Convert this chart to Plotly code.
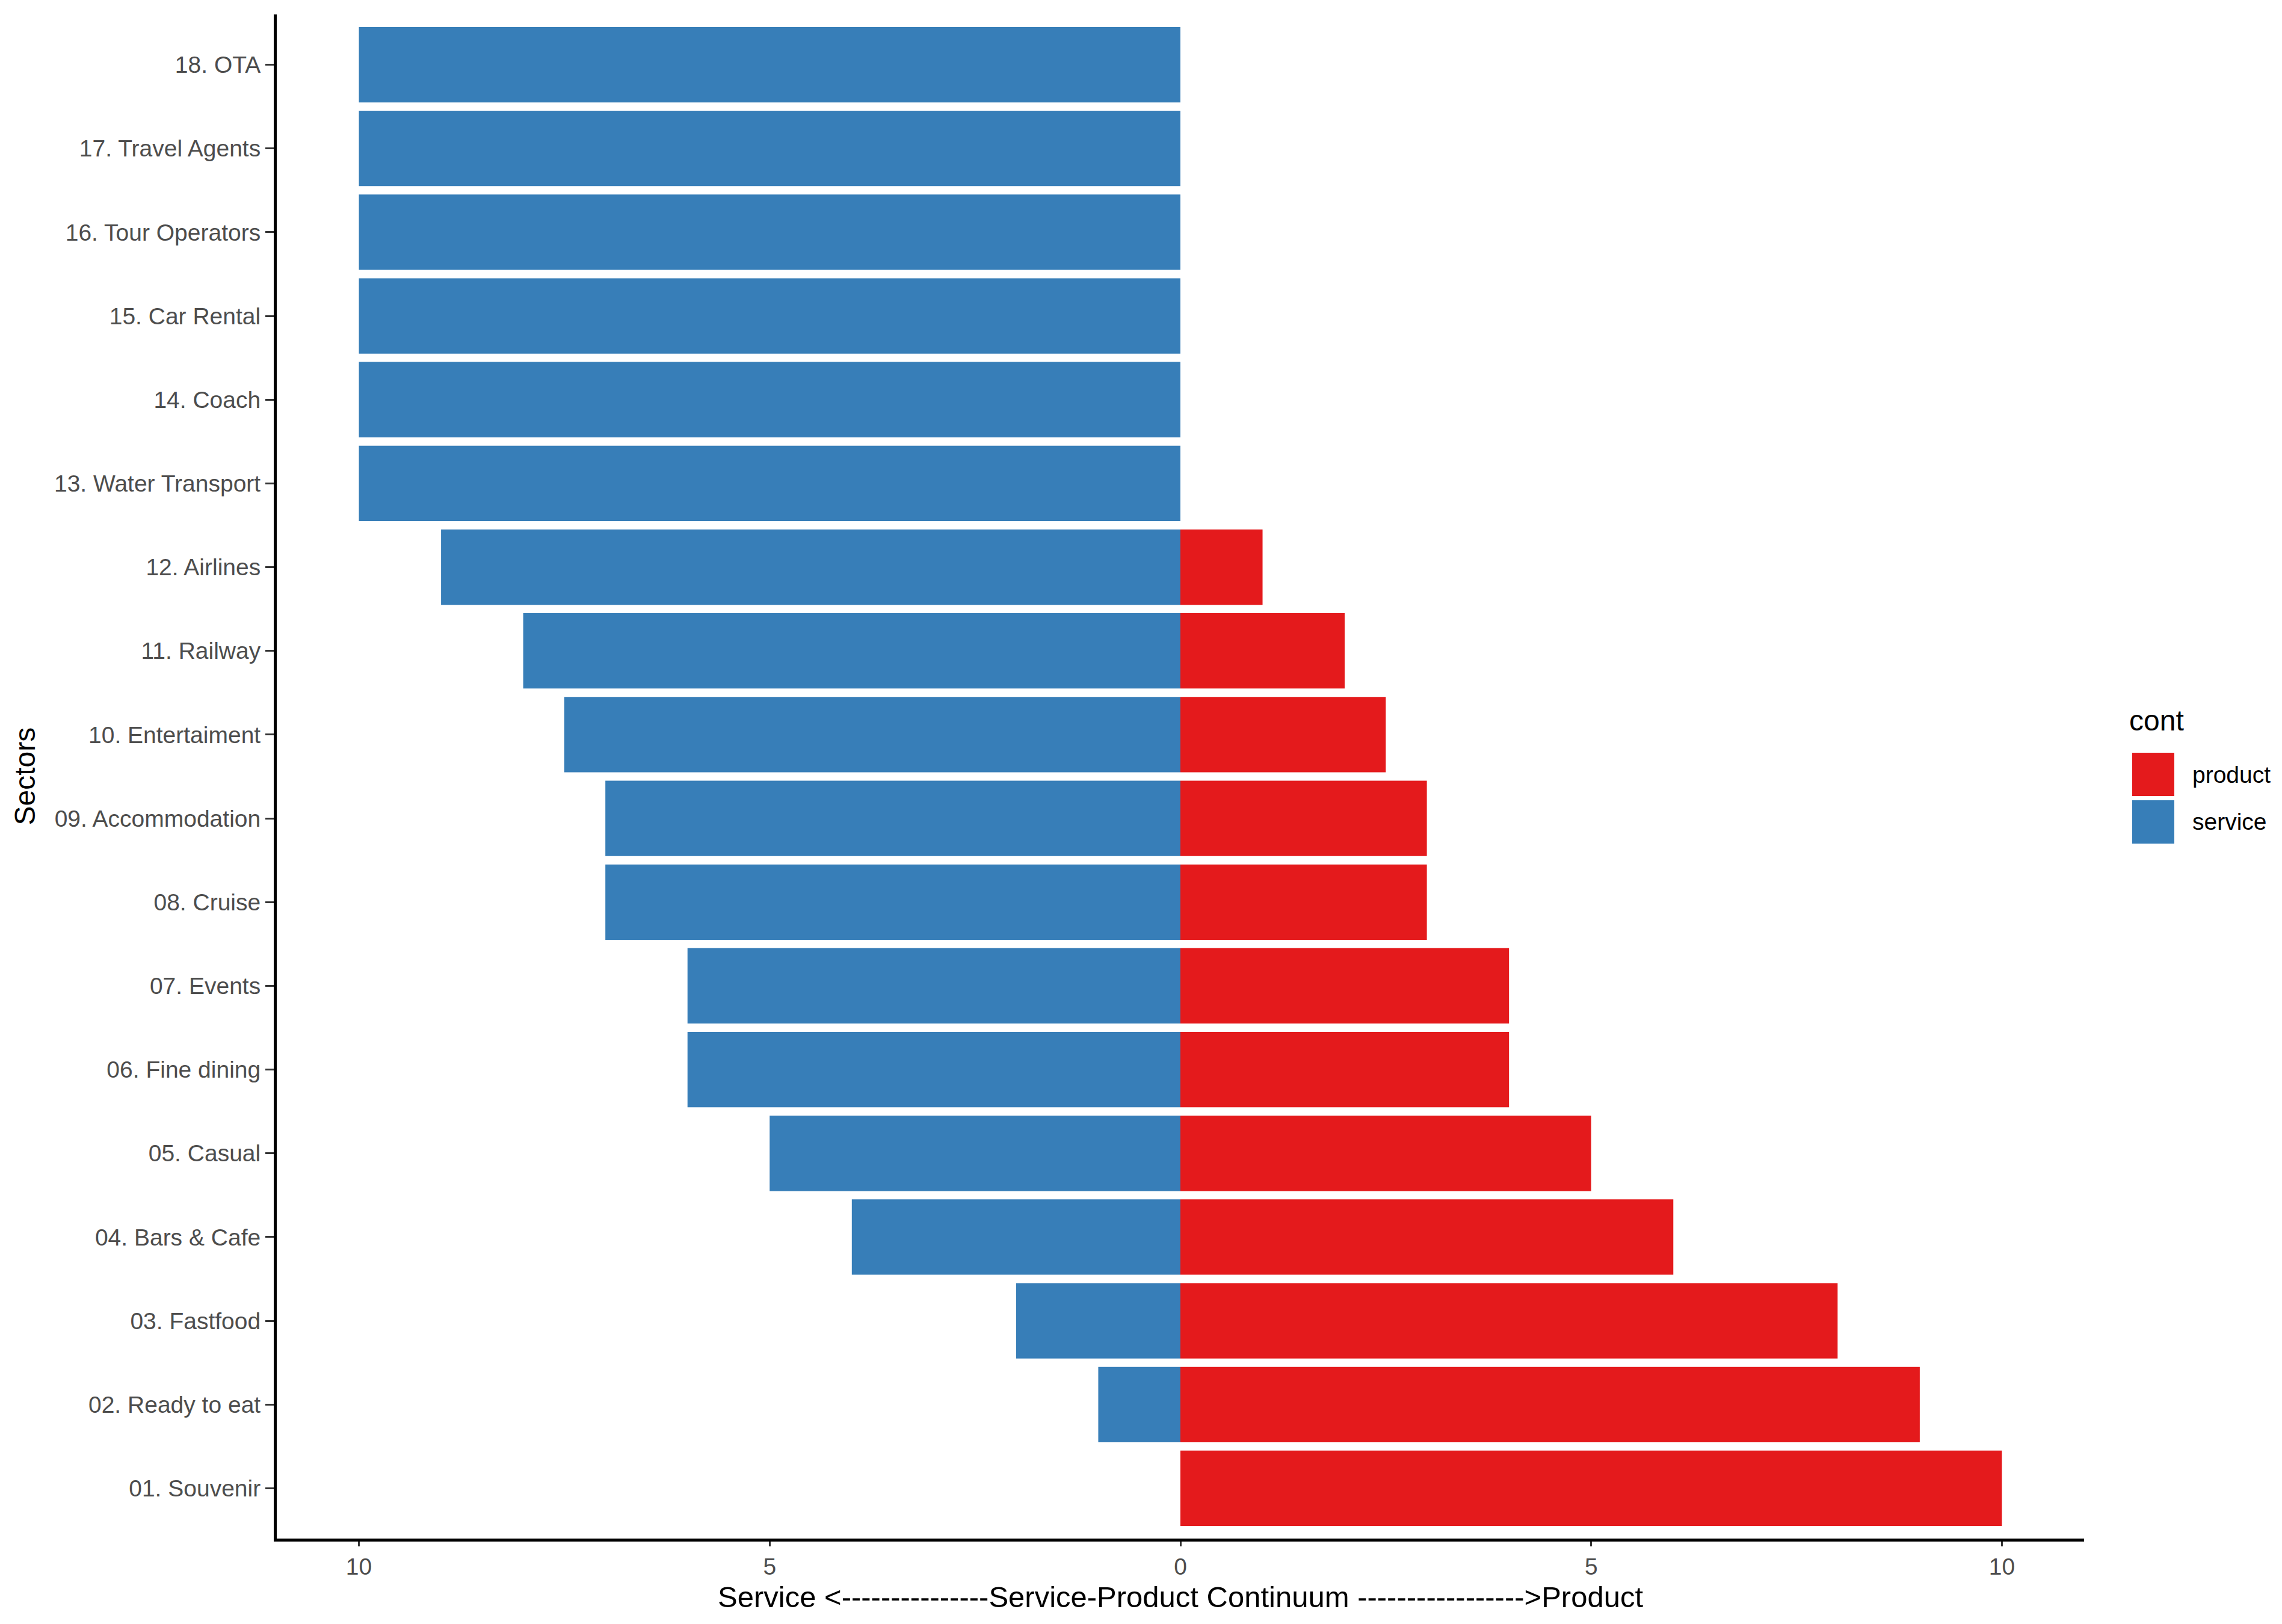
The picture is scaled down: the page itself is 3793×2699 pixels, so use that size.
import plotly.graph_objects as go

sectors = ["01. Souvenir", "02. Ready to eat", "03. Fastfood", "04. Bars & Cafe",
           "05. Casual", "06. Fine dining", "07. Events", "08. Cruise",
           "09. Accommodation", "10. Entertaiment", "11. Railway", "12. Airlines",
           "13. Water Transport", "14. Coach", "15. Car Rental", "16. Tour Operators",
           "17. Travel Agents", "18. OTA"]
product = [10, 9, 8, 6, 5, 4, 4, 3, 3, 2.5, 2, 1, 0, 0, 0, 0, 0, 0]
service = [0, -1, -2, -4, -5, -6, -6, -7, -7, -7.5, -8, -9, -10, -10, -10, -10, -10, -10]
xtick_vals = [-10, -5, 0, 5, 10]
xtick_text = ["10", "5", "0", "5", "10"]
legend_names = ["product", "service"]
colors = {"product": "#E41A1C", "service": "#377EB8"}
x_title = "Service <" + "-" * 15 + "Service-Product Continuum " + "-" * 17 + ">Product"

W, H = 3793, 2699
L, R, T, B = 460, 3464, 24, 2557
FONT = "Liberation Sans, Arial, sans-serif"

def px(x):
    return (x - L) / (R - L)

def py(y):
    return (B - y) / (B - T)

fig = go.Figure()
fig.add_trace(go.Bar(y=sectors, x=service, orientation="h", name="service",
                     marker=dict(color=colors["service"], line=dict(width=0)),
                     width=0.9, showlegend=False))
fig.add_trace(go.Bar(y=sectors, x=product, orientation="h", name="product",
                     marker=dict(color=colors["product"], line=dict(width=0)),
                     width=0.9, showlegend=False))

fig.update_layout(
    width=W, height=H,
    margin=dict(l=L, r=W - R, t=T, b=H - B, autoexpand=False),
    barmode="relative",
    plot_bgcolor="white", paper_bgcolor="white",
    font=dict(family=FONT, color="black"),
    showlegend=False,
)
fig.update_xaxes(
    range=[-11, 11], tickvals=xtick_vals, ticktext=xtick_text,
    showgrid=False, zeroline=False, showline=True, linecolor="black", linewidth=5,
    ticks="outside", ticklen=8, tickwidth=3, tickcolor="#333333",
    tickfont=dict(size=39, color="#4D4D4D", family=FONT),
)
fig.update_yaxes(
    type="category", categoryorder="array", categoryarray=sectors,
    range=[-0.6, len(sectors) - 0.4],
    showgrid=False, zeroline=False, showline=True, linecolor="black", linewidth=5,
    ticks="outside", ticklen=14, tickwidth=3, tickcolor="#333333",
    tickfont=dict(size=39, color="#4D4D4D", family=FONT),
)

annotations = [
    dict(text=x_title,
         x=0.5, y=py(2654), xref="paper", yref="paper", showarrow=False,
         font=dict(size=49, color="black", family=FONT), xanchor="center", yanchor="middle"),
    dict(text="Sectors", x=px(41), y=0.5, xref="paper", yref="paper", showarrow=False,
         textangle=-90, font=dict(size=48, color="black", family=FONT),
         xanchor="center", yanchor="middle"),
    dict(text="cont", x=px(3537), y=py(1197), xref="paper", yref="paper", showarrow=False,
         font=dict(size=48, color="black", family=FONT), xanchor="left", yanchor="middle"),
]
shapes = []
key_tops = [1251, 1330]
for name, top in zip(legend_names, key_tops):
    shapes.append(dict(type="rect", xref="paper", yref="paper",
                       x0=px(3544), x1=px(3614), y0=py(top), y1=py(top + 72),
                       fillcolor=colors[name], line=dict(width=0)))
    annotations.append(dict(text=name, x=px(3642), y=py(top + 36), xref="paper", yref="paper",
                            showarrow=False, font=dict(size=39, color="black", family=FONT),
                            xanchor="left", yanchor="middle"))
fig.update_layout(annotations=annotations, shapes=shapes)

fig.write_html("out.html", config={"displayModeBar": False},
               post_script="document.body.style.margin='0';")
